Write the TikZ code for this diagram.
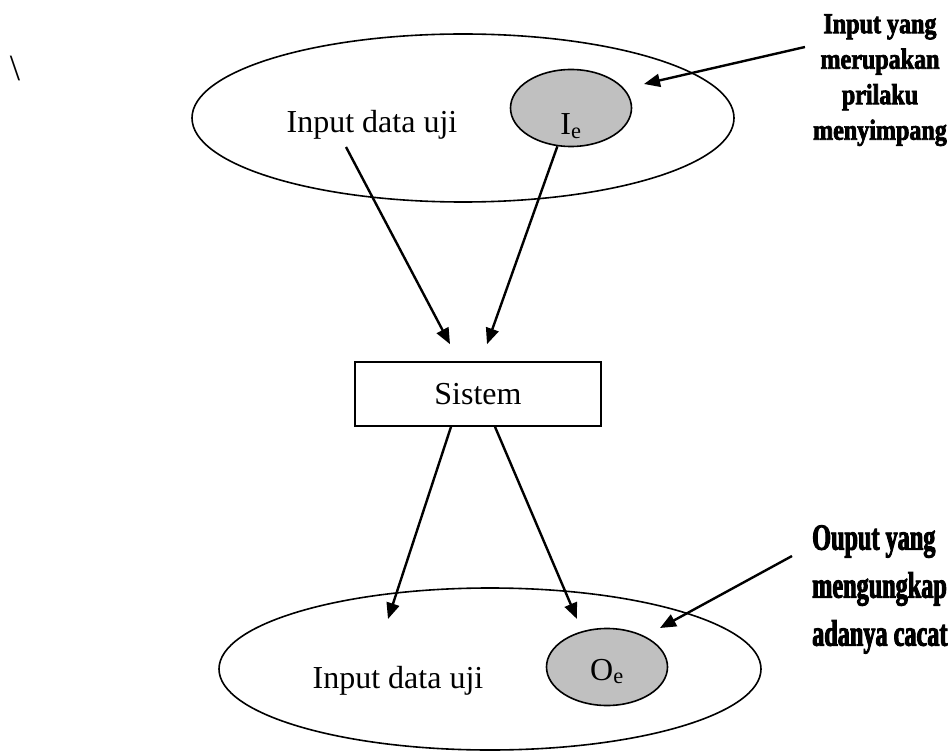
\documentclass[tikz,border=0pt]{standalone}
\usepackage{fontspec}
\setmainfont{Liberation Serif}
\newfontfamily\notefont{Liberation Serif}[BoldFeatures={FakeBold=2.5,FakeStretch=0.83}]
\newfontfamily\notefontwide{Liberation Serif}[BoldFeatures={FakeBold=2.5,FakeStretch=0.655}]
\usetikzlibrary{shapes.geometric,arrows.meta}
\definecolor{silver}{HTML}{C0C0C0}

\begin{document}
\begin{tikzpicture}[x=1pt,y=-1pt,
        dataset/.style={draw,ellipse,line width=1.6pt,inner sep=0pt,minimum width=542pt},
        faulty/.style={draw,ellipse,fill=silver,line width=1.6pt,inner sep=0pt,minimum width=121pt,minimum height=77pt,text depth=0pt,font=\fontsize{32}{38}\selectfont},
        txt/.style={inner sep=0pt,anchor=base,font=\fontsize{32}{38}\selectfont},
        flow/.style={-{Triangle[length=16pt,width=13pt]},line width=2.4pt}]
    \useasboundingbox (0,0) rectangle (950,751);
    \node[txt,font=\fontsize{37}{40}\selectfont](slash) at (15,81){\textbackslash};
    \node[dataset,minimum height=168pt](inSet) at (463,118){};
    \node[faulty,text height=54pt](ie) at (571,108){I\textsubscript{e}};
    \node[txt](inTxt) at (372,133){Input data uji};
    \node[draw,line width=1.6pt,minimum width=246pt,minimum height=64pt,font=\fontsize{32}{38}\selectfont](sistem) at (478,394){Sistem};
    \node[dataset,minimum height=162pt](outSet) at (490,669){};
    \node[faulty,text height=26pt](oe) at (607,667){O\textsubscript{e}};
    \node[txt](outTxt) at (398,688){Input data uji};
    \node[anchor=north,align=center,inner sep=0pt,font={\fontsize{29}{35.5}\notefont\bfseries}](inNote) at (880,14){Input yang\\merupakan\\prilaku\\menyimpang};
    \node[anchor=north west,align=left,inner sep=0pt,font={\fontsize{37}{48}\notefontwide\bfseries}](outNote) at (812,525){Ouput yang\\mengungkap\\adanya cacat};
    \coordinate (inTip) at (644,84);
    \coordinate (outTipA) at (388,619);
    \coordinate (outTipB) at (577,619);
    \coordinate (outTip) at (660,628);
    \draw[flow]([xshift=-26pt,yshift=-7pt]inTxt.south)--([xshift=-28pt,yshift=17pt]sistem.north);
    \draw[flow](ie)--([xshift=9pt,yshift=17pt]sistem.north);
    \draw[flow]([xshift=-27pt]sistem.south)--(outTipA);
    \draw[flow]([xshift=17pt]sistem.south)--(outTipB);
    \draw[flow]([xshift=-8pt,yshift=-33pt]inNote.north west)--(inTip);
    \draw[flow]([xshift=-20pt,yshift=-31pt]outNote.north west)--(outTip);
\end{tikzpicture}
\end{document}
